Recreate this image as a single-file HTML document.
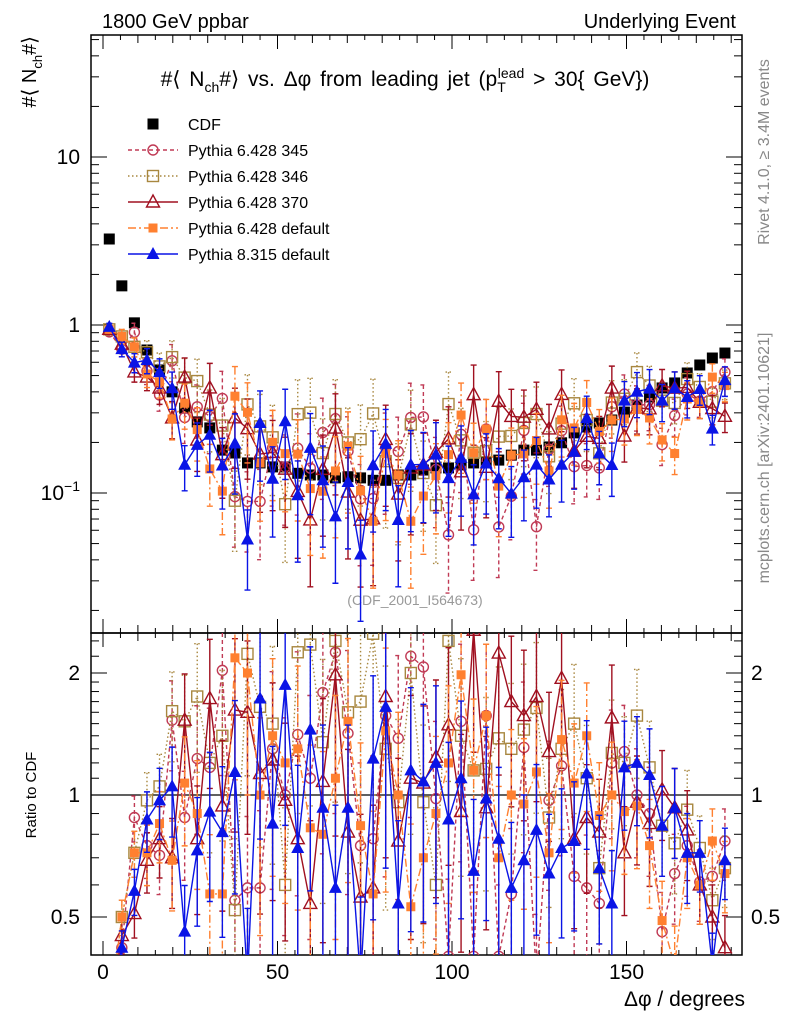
<!DOCTYPE html>
<html><head><meta charset="utf-8">
<style>
html,body{margin:0;padding:0;background:#fff;overflow:hidden;width:786px;height:1024px;}
svg{display:block;font-family:"Liberation Sans",sans-serif;}
</style></head>
<body>
<svg id="chart" width="786" height="1024" viewBox="0 0 786 1024" xmlns="http://www.w3.org/2000/svg">
  <defs>
    <clipPath id="clipMain"><rect x="91" y="35" width="651" height="598"/></clipPath>
    <clipPath id="clipRatio"><rect x="91" y="633" width="651" height="322"/></clipPath>
  </defs>
  <rect x="0" y="0" width="786" height="1024" fill="#fff"/>
  <text x="102" y="28" font-size="20">1800 GeV ppbar</text>
  <text x="736" y="28" font-size="20" text-anchor="end">Underlying Event</text>
  <text x="405" y="86" font-size="21" word-spacing="3" text-anchor="middle">#⟨ N<tspan font-size="14" dy="6">ch</tspan><tspan dy="-6">#⟩ vs. Δφ from leading jet  (p</tspan><tspan font-size="14" dy="6">T</tspan><tspan font-size="14" dy="-14" dx="-8">lead</tspan><tspan dy="8"> &gt; 30{ GeV})</tspan></text>
  <text transform="translate(36,36) rotate(-90)" font-size="20" text-anchor="end">#⟨ N<tspan font-size="13" dy="6">ch</tspan><tspan dy="-6">#⟩</tspan></text>
  <text transform="translate(36,795) rotate(-90)" font-size="15" text-anchor="middle">Ratio to CDF</text>
  <text transform="translate(769,152) rotate(-90)" font-size="16" fill="#888" text-anchor="middle">Rivet 4.1.0, ≥ 3.4M events</text>
  <text transform="translate(769,458) rotate(-90)" font-size="16" fill="#888" text-anchor="middle">mcplots.cern.ch [arXiv:2401.10621]</text>
  <text x="415" y="605" font-size="14" fill="#999" text-anchor="middle">(CDF_2001_I564673)</text>
  <text x="745" y="1006" font-size="21" text-anchor="end">Δφ / degrees</text>
  <g id="axes"></g>
  <g id="mainPlot" clip-path="url(#clipMain)"></g>
  <g id="ratioPlot" clip-path="url(#clipRatio)"></g>
  <g id="legend"></g>
</svg>
<script>
const binCenters = Array.from({length:50},(_, i)=>1.8+3.6*i);
const cdfValues = [3.25,1.71,1.03,0.71,0.54,0.40,0.32,0.265,0.244,0.180,
0.173,0.151,0.151,0.143,0.143,0.131,0.128,0.128,0.123,0.125,
0.123,0.119,0.119,0.128,0.128,0.137,0.141,0.141,0.147,0.151,
0.153,0.157,0.168,0.180,0.180,0.188,0.199,0.228,0.247,0.261,
0.272,0.303,0.334,0.373,0.422,0.452,0.518,0.578,0.636,0.681];
const ratio345 = [0.28,0.42,0.88,0.75,0.71,1.53,0.88,1.23,1.17,2.03,0.55,0.59,0.59,1.3,1.0,1.41,1.1,1.79,2.25,1.42,0.75,0.78,1.57,1.38,2.2,2.07,0.98,0.4,1.52,0.4,1.57,0.4,0.57,1.31,0.35,0.97,1.18,0.63,0.59,0.54,1.2,1.28,1.0,0.9,0.46,0.64,0.75,0.61,0.63,0.77];
const ratio346 = [0.29,0.5,0.72,0.97,1.05,1.61,1.52,1.75,1.2,1.4,0.52,2.23,1.65,1.5,0.6,2.25,2.35,1.35,2.4,1.6,1.7,2.5,1.3,0.96,2.0,0.96,0.6,2.4,1.4,1.15,1.16,1.38,1.3,1.45,1.64,0.88,1.3,1.5,1.1,0.66,1.27,1.2,1.57,1.17,0.84,0.76,0.92,0.74,0.55,0.66];
const ratio370 = [0.29,0.45,0.51,0.69,0.78,0.70,1.53,0.78,1.73,0.94,1.62,1.6,1.13,1.22,0.97,0.78,0.54,1.08,1.98,0.81,0.56,0.59,1.75,0.77,1.1,1.07,1.24,1.49,0.91,2.55,0.93,2.24,1.7,1.57,1.75,1.28,1.94,0.78,0.88,0.81,1.55,0.72,0.96,0.85,1.03,0.93,0.82,0.6,0.5,0.42];
const ratioDef = [0.29,0.5,0.72,0.72,0.85,0.69,1.07,0.9,0.57,0.57,2.18,2.0,1.0,1.4,1.2,1.3,0.83,0.8,1.1,1.52,0.84,0.57,1.44,1.0,0.53,0.7,0.9,1.2,1.98,1.15,1.57,0.7,1.0,0.95,1.14,0.72,1.37,1.07,1.4,0.89,1.0,0.91,0.94,0.75,0.49,0.38,0.7,0.6,0.77,0.64];
const ratioP8 = [0.30,0.42,0.58,0.87,0.97,1.05,0.46,0.73,0.91,0.81,1.14,0.35,1.73,0.85,1.87,0.74,1.45,0.93,0.59,0.93,0.35,1.23,1.65,0.54,1.15,1.08,1.2,0.87,1.1,0.65,0.98,0.78,0.59,0.69,0.82,0.64,0.74,0.77,1.13,0.66,0.54,1.17,1.2,1.12,0.84,0.93,0.72,0.72,0.38,0.69];
const relErr = [0.05,0.1,0.13,0.17,0.2,0.25,0.3,0.35,0.4,0.45,0.5,0.5,0.55,0.55,0.55,0.6,0.6,0.6,0.6,0.6,0.6,0.6,0.6,0.6,0.6,0.55,0.55,0.55,0.55,0.5,0.5,0.5,0.45,0.45,0.45,0.4,0.4,0.4,0.35,0.35,0.35,0.3,0.3,0.3,0.25,0.25,0.25,0.2,0.2,0.2];
const xTicks = [0,50,100,150];
const yMainTicks = [10,1,0.1];
const yRatioTicks = [2,1,0.5];

const NS="http://www.w3.org/2000/svg";
const L=91,R=742,MT=35,MB=633,RB=955;
function xS(v){return 103+3.49*v;}
function yM(v){return 157-168*Math.log10(v/10);}
function yR(r){return 795-122*Math.log2(r);}
function cl(y){return Math.max(2,Math.min(1015,y));}
function mk(tag,attrs,parent){const e=document.createElementNS(NS,tag);for(const k in attrs)e.setAttribute(k,attrs[k]);parent.appendChild(e);return e;}

const axes=document.getElementById('axes');
let f1=mk('rect',{x:L,y:MT,width:R-L,height:MB-MT,fill:'none',stroke:'#000','stroke-width':1.5},axes);


let f2=mk('rect',{x:L,y:MB,width:R-L,height:RB-MB,fill:'none',stroke:'#000','stroke-width':1.5},axes);


for(let v=0;v<=180;v+=5){
  const x=xS(v);const major=v%50===0;const len=major?14:(v%10===0?8:5);
  [[MT,1],[MB,-1],[MB,1],[RB,-1]].forEach(([y0,d])=>{
    const t=mk('line',{x1:x,x2:x,y1:y0,y2:y0+d*len,stroke:'#000','stroke-width':1},axes);
    
    
  });
}
xTicks.forEach(v=>{
  const t=mk('text',{x:xS(v),y:979,'font-size':21,'text-anchor':'middle'},axes);
  t.textContent=v;
  
  
});
for(let d=-2;d<=1;d++){
  for(let m=1;m<=9;m++){
    const v=m*Math.pow(10,d);const y=yM(v);
    if(y<MT||y>MB)continue;
    const len=m===1?16:8;
    [[L,1],[R,-1]].forEach(([x0,s])=>{
      const t=mk('line',{x1:x0,x2:x0+s*len,y1:y,y2:y,stroke:'#000','stroke-width':1},axes);
      
      
    });
  }
}
yMainTicks.forEach(v=>{
  const t=mk('text',{x:80,y:yM(v)+7,'font-size':21,'text-anchor':'end'},axes);
  if(v===0.1){t.innerHTML='10<tspan font-size="14" dy="-9">−1</tspan>';}
  else t.textContent=v;
  
  
});
[0.5,0.6,0.7,0.8,0.9,1,1.1,1.2,1.3,1.4,1.5,1.6,1.7,1.8,1.9,2,2.2,2.4].forEach(v=>{
  const y=yR(v);if(y<MB||y>RB)return;
  const len=(v===0.5||v===1||v===2)?16:8;
  [[L,1],[R,-1]].forEach(([x0,s])=>{
    const t=mk('line',{x1:x0,x2:x0+s*len,y1:y,y2:y,stroke:'#000','stroke-width':1},axes);
    
    
  });
});
yRatioTicks.forEach(v=>{
  const t=mk('text',{x:80,y:yR(v)+7,'font-size':21,'text-anchor':'end'},axes);
  t.textContent=v;
  
  
  const t2=mk('text',{x:751,y:yR(v)+7,'font-size':21,'text-anchor':'start'},axes);
  t2.textContent=v;
  
  
});
const oneLine=mk('line',{x1:L,x2:R,y1:yR(1),y2:yR(1),stroke:'#000','stroke-width':1.3},axes);



const series=[
 {name:'pythia-6428-345',label:'Pythia 6.428 345',ratio:ratio345,color:'#c03a55',dash:'4,3',marker:'circle'},
 {name:'pythia-6428-346',label:'Pythia 6.428 346',ratio:ratio346,color:'#a8873f',dash:'1.5,2.5',marker:'osquare'},
 {name:'pythia-6428-370',label:'Pythia 6.428 370',ratio:ratio370,color:'#a01020',dash:'',marker:'otri'},
 {name:'pythia-6428-default',label:'Pythia 6.428 default',ratio:ratioDef,color:'#ff8030',dash:'8,3,2,3',marker:'fsquare'},
 {name:'pythia-8315-default',label:'Pythia 8.315 default',ratio:ratioP8,color:'#0a14e6',dash:'',marker:'ftri'}
];
function marker(kind,x,y,c,parent,nm){
  let e;
  if(kind==='circle')e=mk('circle',{cx:x,cy:y,r:5,fill:'#fff','fill-opacity':0,stroke:c,'stroke-width':1.4},parent);
  else if(kind==='osquare')e=mk('rect',{x:x-5.5,y:y-5.5,width:11,height:11,fill:'none',stroke:c,'stroke-width':1.4},parent);
  else if(kind==='otri')e=mk('polygon',{points:`${x},${y-7} ${x-6.5},${y+5} ${x+6.5},${y+5}`,fill:'none',stroke:c,'stroke-width':1.4},parent);
  else if(kind==='fsquare')e=mk('rect',{x:x-4.5,y:y-4.5,width:9,height:9,fill:c},parent);
  else if(kind==='ftri')e=mk('polygon',{points:`${x},${y-7} ${x-6.5},${y+5} ${x+6.5},${y+5}`,fill:c},parent);
  else if(kind==='bsquare')e=mk('rect',{x:x-5.5,y:y-5.5,width:11,height:11,fill:c},parent);
  
  
  return e;
}
const mainG=document.getElementById('mainPlot');
const ratioG=document.getElementById('ratioPlot');
cdfValues.forEach((v,i)=>{
  marker('bsquare',xS(binCenters[i]),yM(v),'#000',mainG,'cdf-point');
});
function drawSeries(s,g,valFn,yFn){
  const grp=mk('g',{},g);
  
  
  const pts=binCenters.map((c,i)=>[xS(c),cl(yFn(valFn(i)))]);
  const ln=mk('polyline',{points:pts.map(p=>p.join(',')).join(' '),fill:'none',stroke:s.color,'stroke-width':1.4,'stroke-dasharray':s.dash},grp);
  
  
  binCenters.forEach((c,i)=>{
    const v=valFn(i),e=relErr[i];
    const x=xS(c);const yu=cl(yFn(v*(1+e)));const yd=cl(yFn(Math.max(v*(1-e),1e-4)));
    const eb=mk('path',{d:`M${x},${yu}V${yd}M${x-3},${yu}h6M${x-3},${yd}h6`,stroke:s.color,'stroke-width':1.4,fill:'none','stroke-dasharray':s.dash},grp);
    
    
  });
  binCenters.forEach((c,i)=>{
    const y=yFn(valFn(i));
    if(y<-10||y>1010)return;
    marker(s.marker,xS(c),y,s.color,grp,s.name+'-point');
  });
}
series.forEach(s=>{
  drawSeries(s,mainG,i=>cdfValues[i]*s.ratio[i],yM);
  drawSeries(s,ratioG,i=>s.ratio[i],yR);
});
const lg=document.getElementById('legend');


const e0=mk('g',{},lg);


marker('bsquare',153,124,'#000',e0,'legend-marker-cdf');
let tt=mk('text',{x:188,y:130,'font-size':16},e0);tt.textContent='CDF';


series.forEach((s,k)=>{
  const y=150+26*k;
  const eg=mk('g',{},lg);
  
  
  const l=mk('line',{x1:128,x2:178,y1:y,y2:y,stroke:s.color,'stroke-width':1.4,'stroke-dasharray':s.dash},eg);
  
  
  marker(s.marker,153,y,s.color,eg,'legend-marker');
  const t=mk('text',{x:188,y:y+6,'font-size':16},eg);t.textContent=s.label;
  
  
});
</script>
</body></html>
